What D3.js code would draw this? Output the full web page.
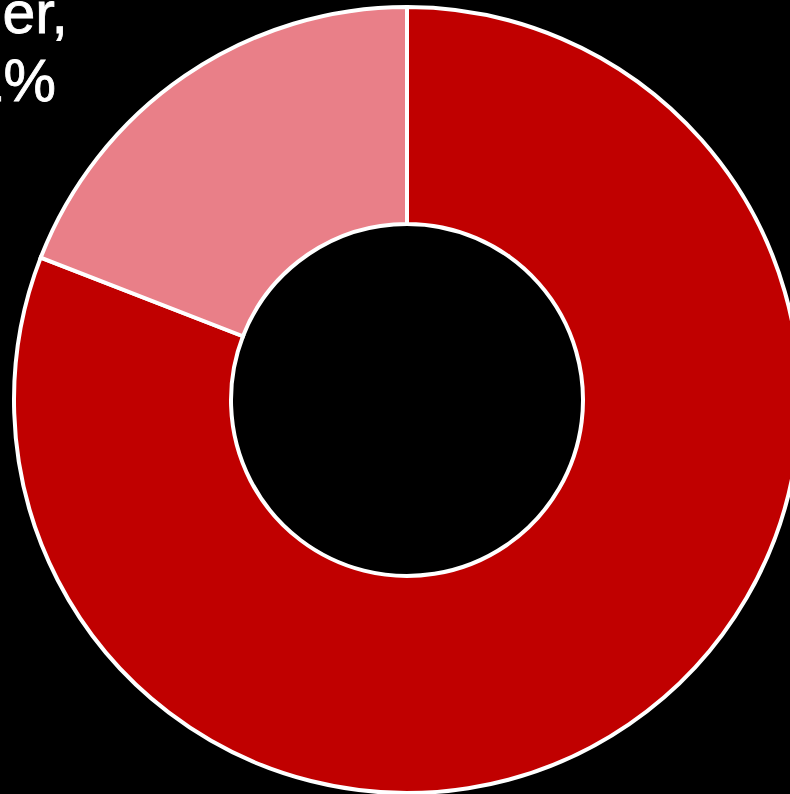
<!DOCTYPE html>
<html>
<head>
<meta charset="utf-8">
<script src="https://cdn.jsdelivr.net/npm/d3@7"></script>
<style>
  html, body { margin: 0; padding: 0; background: #000; overflow: hidden; }
  svg { display: block; }
</style>
</head>
<body>
<svg id="chart" width="790" height="794"></svg>
<script>
// Share of total by category
const categories = ["Main", "Other"];
const shares = [80.9, 19.1];
const sliceColors = ["#C00000", "#E97F88"];
// Label for the smaller slice, split over two lines
const labelLines = ["Other,", "19.1%"];

const svg = d3.select("#chart");
const cx = 407, cy = 400;
const outerR = 393, innerR = 176;

const data = categories.map((c, i) => ({ category: c, value: shares[i] }));

const pie = d3.pie()
  .sort(null)
  .value(d => d.value)
  .startAngle(0)
  .endAngle(2 * Math.PI);

const arc = d3.arc().innerRadius(innerR).outerRadius(outerR);

const color = d3.scaleOrdinal().domain(categories).range(sliceColors);

const g = svg.append("g").attr("transform", `translate(${cx},${cy})`);

g.selectAll("path")
  .data(pie(data))
  .join("path")
  .attr("d", arc)
  .attr("fill", d => color(d.data.category))
  .attr("stroke", "#fff")
  .attr("stroke-width", 4)
  .attr("stroke-linejoin", "miter");

// Slice label (top-left)
const labelPos = [{ x: 68, y: 33 }, { x: 56, y: 101 }];
svg.append("text")
  .attr("fill", "#fff")
  .attr("stroke", "#fff")
  .attr("stroke-width", 0.8)
  .attr("font-family", "'Helvetica Neue', Helvetica, Arial, 'Liberation Sans', sans-serif")
  .attr("font-size", 59)
  .attr("text-anchor", "end")
  .selectAll("tspan")
  .data(labelLines)
  .join("tspan")
  .attr("x", (d, i) => labelPos[i].x)
  .attr("y", (d, i) => labelPos[i].y)
  .text(d => d);
</script>
</body>
</html>
